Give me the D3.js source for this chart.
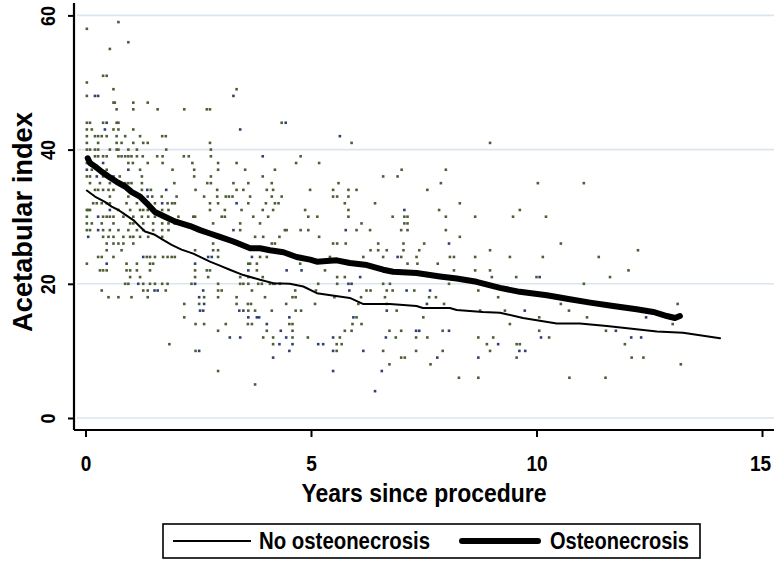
<!DOCTYPE html>
<html><head><meta charset="utf-8">
<script src="https://cdn.jsdelivr.net/npm/d3@7"></script>
<style>body{margin:0;background:#fff}svg{display:block}text{font-family:"Liberation Sans",Arial,sans-serif;font-weight:bold;fill:#000}</style>
</head><body><svg id="c" width="774" height="561"></svg>
<script>
// ---- data ----
const xTicks = [0, 5, 10, 15];
const yTicks = [0, 20, 40, 60];
const legendLabels = ["No osteonecrosis", "Osteonecrosis"];
// scatter rows: [value, [years...]]
const greenRows = [
 [59,[0.73]],[58,[0.03]],[56,[0.95]],[55,[0.54]],[51,[0.39,0.47]],[50,[0.03]],[49,[0.62,3.35]],[48,[0.03]],
 [47,[0.62,0.65,1.06,1.38]],[46,[0.69,1.06,1.60,2.19,2.69,2.76]],[44,[0.03,0.10,0.39,0.69,0.73,4.35]],
 [43,[0.03,0.14,0.62,0.73,1.06]],[42,[0.03,0.21,0.28,0.36,0.47,0.69,0.88,1.21,1.70,1.78]],
 [41,[0.03,0.28,0.69,0.80,1.06,1.28,1.38,2.76,5.90,8.97]],[40,[0.03,0.10,0.21,0.28,0.54,0.69,0.73,0.95,1.14,1.79,2.78]],
 [39,[0.21,0.28,0.39,0.47,0.73,0.80,0.88,0.95,1.02,1.14,1.27,1.59,1.71,2.18,2.29,2.78,4.77]],
 [38,[0.03,0.95,1.05,1.38,1.71,2.37,2.94,3.35,4.67,5.18]],
 [37,[0.14,0.28,0.47,1.21,1.93,2.41,2.94,3.54,4.20,7.01,7.99]],
 [36,[0.03,0.10,0.39,0.76,1.25,2.41,2.78,3.93,6.60,6.92]],
 [35,[0.10,0.32,0.54,0.88,0.95,1.02,1.25,1.97,2.70,2.78,3.28,3.61,4.13,5.61,7.88,10.03,11.05]],
 [34,[0.21,0.28,0.39,0.51,0.62,1.25,1.45,2.44,2.92,3.35,3.50,4.02,4.16,4.98,5.49,5.83,6.01,7.58]],
 [33,[0.54,0.95,1.48,1.69,2.02,2.63,2.92,3.11,3.18,3.26,3.65,4.13,4.35,5.49,5.58,5.83]],
 [32,[0.17,0.25,0.36,0.47,0.54,0.91,1.14,1.54,1.82,1.92,1.98,2.76,2.94,3.61,4.00,4.20,4.28,5.75,6.42,8.30]],
 [31,[0.03,0.06,0.10,0.73,0.99,1.21,1.28,1.38,1.70,1.84,2.76,3.09,3.46,3.93,4.16,4.87,5.83,7.84,9.63]],
 [30,[0.03,0.39,0.47,0.54,0.62,0.84,1.06,1.25,1.39,1.54,1.70,2.06,2.39,2.43,3.02,3.09,3.72,4.05,4.94,5.14,5.83,6.81,7.07,7.14,7.99,8.64,9.48,10.21]],
 [29,[0.03,0.14,0.36,0.62,0.99,1.06,1.28,1.50,1.70,1.84,1.98,2.83,3.43,3.87,6.12,7.07,7.14]],
 [28,[0.03,0.10,0.39,0.54,0.73,0.95,1.14,1.28,1.50,1.70,1.84,3.43,4.42,4.46,4.77,4.94,6.01,6.31,7.00,7.14,7.99]],
 [27,[0.39,0.51,0.62,0.84,0.99,1.06,1.21,1.39,1.70,2.94,3.76,3.94,4.30,5.18,8.30]],
 [26,[0.47,0.62,0.73,0.84,1.06,2.83,3.31,4.13,4.20,5.49,5.58,5.77,6.49,7.05,7.51,10.54]],
 [25,[0.47,0.80,2.43,2.83,2.94,6.32,6.49,6.68,7.05,7.40,8.97,12.25]],
 [24,[0.28,0.36,0.62,1.36,1.43,1.54,1.72,1.82,1.91,1.98,2.94,3.87,4.02,5.42,6.16,6.60,7.00,7.34,8.08,8.17,8.64,9.41,10.14,11.38]],
 [23,[0.03,0.91,1.14,1.43,1.50,3.61,3.65,3.80,4.76,7.14,7.36,7.81]],
 [22,[0.32,0.39,0.47,0.91,0.99,1.14,1.43,2.43,2.69,2.76,3.80,5.31,8.17,8.64,8.97,12.04]],
 [21,[0.99,1.21,2.43,2.72,3.43,3.61,3.93,5.58,5.75,8.08,9.01,9.55,10.00,11.63]],
 [20,[0.88,0.95,1.28,1.43,1.54,1.70,1.82,2.35,2.94,3.43,3.50,3.61,3.83,3.91,4.09,4.16,4.20,4.31,5.16,5.58,6.60,6.75,8.06,11.05]],
 [19,[0.36,1.28,1.38,1.78,2.94,3.02,3.69,4.65,5.11,6.23,6.32,6.68,6.81,7.29,8.71]],
 [18,[0.51,0.73,1.02,1.38,2.63,2.94,3.35,3.98,4.59,4.66,5.52,6.11,6.64,7.62,7.77,9.15]],
 [17,[2.19,2.52,3.35,3.60,3.67,4.45,5.09,6.05,6.68,7.95,10.54,13.13]],
 [16,[3.61,3.76,4.13,4.66,4.78,6.90,8.75,9.30,10.72]],
 [15,[2.19,6.01,7.49,10.06,11.12]],
 [14,[2.44,2.63,3.11,3.60,3.69,4.52,4.59,5.92,6.12,9.41,13.02]],
 [13,[2.94,4.02,4.59,5.75,5.90,6.74,7.00,7.92,10.06,11.54]],
 [12,[3.94,4.16,4.59,4.93,5.64,6.88,7.33,7.58,8.71,9.04,10.28]],
 [11,[1.86,4.16,5.57,5.68,8.90,9.56,9.63,11.96]],
 [10,[2.44,5.57,6.60,7.33,7.92,8.97]],
 [9,[7.00,7.08,9.56,12.11,12.37]],[8,[6.74,7.65,13.20]],[7,[2.94]],[6,[8.28,8.71,10.73,11.53]],[5,[3.76]]
];
const blueRows = [
 [48,[0.21,0.28,3.28]],[44,[0.47,4.44]],[43,[0.43,3.43]],[42,[5.64]],[39,[3.93]],[38,[0.39]],[37,[0.03,0.95]],
 [36,[0.25,0.54,0.62]],[34,[1.37,1.79]],[33,[1.38]],[32,[1.70,3.35]],[31,[0.54,7.07]],[30,[0.28]],
 [28,[0.28,3.28,5.77]],[27,[0.06]],[26,[8.06]],[24,[1.28,2.72,2.80,3.69,6.92]],[23,[0.47,2.43]],
 [22,[3.61,4.46,4.79]],[21,[6.09,10.07]],[20,[1.17,2.43,5.83,5.90]],[19,[1.53,1.60,2.61,5.85,7.12,7.64]],
 [18,[2.52]],[17,[2.63,7.57]],[16,[2.54,2.61,3.41,3.50,6.68,9.74]],[15,[3.61,3.80,3.85,4.52,5.94,12.43]],
 [14,[4.02]],[13,[4.33,7.33,7.40,8.06,11.76]],[12,[3.20,3.43,4.45,5.49,6.66,10.10,12.10,12.32]],
 [11,[4.30,4.59,5.16,5.27,9.15]],[10,[2.52,4.52,5.49,6.16,9.62,9.75]],[9,[4.16,7.80,8.71]],[7,[5.49,6.57]],[4,[6.42]]
];
// fitted curves: [years, value]
const noOsteoLine = [[0.03,33.9],[0.21,33.0],[0.43,32.2],[0.58,31.5],[0.73,31.0],[0.88,30.3],[1.06,29.5],[1.21,28.5],[1.32,27.8],[1.54,27.3],[1.73,26.5],[1.91,25.8],[2.13,25.1],[2.39,24.5],[2.54,24.0],[2.76,23.3],[2.98,22.7],[3.20,22.1],[3.50,21.3],[3.87,20.6],[4.16,20.1],[4.53,20.0],[4.83,19.6],[5.13,18.6],[5.86,17.9],[6.15,17.0],[6.75,17.0],[7.34,16.7],[7.48,16.4],[8.08,16.4],[8.23,16.1],[8.81,15.8],[9.19,15.7],[9.70,14.9],[10.45,14.1],[10.96,14.1],[11.56,13.7],[12.67,12.9],[13.25,12.7],[14.07,11.9]];
const osteoLine = [[0.05,38.7],[0.10,38.0],[0.21,37.5],[0.36,36.7],[0.51,36.0],[0.69,35.2],[0.88,34.5],[1.02,33.7],[1.21,33.0],[1.36,32.0],[1.54,30.7],[1.76,30.0],[1.98,29.3],[2.32,28.6],[2.54,28.0],[2.76,27.5],[2.98,27.0],[3.28,26.3],[3.65,25.3],[3.87,25.3],[4.09,25.0],[4.39,24.7],[4.68,24.0],[4.98,23.6],[5.13,23.3],[5.57,23.5],[5.86,23.1],[6.24,22.8],[6.60,22.1],[6.82,21.8],[7.34,21.6],[7.86,21.1],[8.23,20.8],[8.67,20.3],[9.19,19.4],[9.63,18.8],[10.23,18.3],[10.74,17.7],[11.19,17.2],[11.70,16.7],[12.22,16.2],[12.59,15.8],[12.89,15.2],[13.07,14.9],[13.18,15.2]];

// ---- drawing ----
const svg = d3.select("#c");
const x = d3.scaleLinear().domain([0, 15]).range([85.5, 762]);
const y = d3.scaleLinear().domain([0, 60]).range([418, 15.4]);
const axisX0 = 74, axisY0 = 430;
const flat = rows => rows.flatMap(([v, xs]) => xs.map(t => [t, v]));
const digitW = 10.6;

// gridlines
svg.append("g").selectAll("line").data(yTicks).join("line")
  .attr("x1", axisX0 + 3).attr("x2", 774).attr("y1", d => y(d)).attr("y2", d => y(d))
  .attr("stroke", "#dce5ee").attr("stroke-width", 1.6);

// points
const ps = 2.6;
svg.append("g").selectAll("rect").data(flat(greenRows)).join("rect")
  .attr("x", d => x(d[0]) - ps/2).attr("y", d => y(d[1]) - ps/2).attr("width", ps).attr("height", ps)
  .attr("fill", "#4e5e36");
svg.append("g").selectAll("rect").data(flat(blueRows)).join("rect")
  .attr("x", d => x(d[0]) - ps/2).attr("y", d => y(d[1]) - ps/2).attr("width", ps).attr("height", ps)
  .attr("fill", "#2f426f");

// lines
const line = d3.line().x(d => x(d[0])).y(d => y(d[1]));
svg.append("path").datum(noOsteoLine).attr("d", line).attr("fill", "none")
  .attr("stroke", "#000").attr("stroke-width", 2).attr("stroke-linejoin", "round").attr("stroke-linecap", "round");
svg.append("path").datum(osteoLine).attr("d", line).attr("fill", "none")
  .attr("stroke", "#000").attr("stroke-width", 6).attr("stroke-linejoin", "round").attr("stroke-linecap", "round");

// axes
const gy = svg.append("g").attr("transform", `translate(${axisX0},0)`)
  .call(d3.axisLeft(y).tickValues(yTicks).tickSize(6).tickFormat(d3.format("d")));
gy.select(".domain").attr("d", `M0,3V${axisY0}`).attr("stroke-width", 2.2);
gy.selectAll(".tick line").attr("stroke-width", 2);
gy.selectAll(".tick text").attr("font-size", 20).attr("font-family", null)
  .attr("x", 0).attr("y", 0).attr("dy", 0).attr("text-anchor", "middle")
  .attr("textLength", d => String(d).length * 10).attr("lengthAdjust", "spacingAndGlyphs")
  .attr("transform", `translate(-19,0) rotate(-90)`);

const gx = svg.append("g").attr("transform", `translate(0,${axisY0})`)
  .call(d3.axisBottom(x).tickValues(xTicks).tickSize(7).tickPadding(18).tickFormat(d3.format("d")));
gx.select(".domain").attr("d", `M${axisX0},0H774`).attr("stroke-width", 2.2);
gx.selectAll(".tick line").attr("stroke-width", 2);
gx.selectAll(".tick text").attr("font-size", 22).attr("font-family", null)
  .attr("textLength", d => String(d).length * digitW).attr("lengthAdjust", "spacingAndGlyphs");
gx.selectAll(".tick").filter(d => d === 15).select("text").attr("x", -2);

// titles
svg.append("text").attr("x", 424).attr("y", 502).attr("text-anchor", "middle").attr("font-size", 25)
  .attr("textLength", 245).attr("lengthAdjust", "spacingAndGlyphs").text("Years since procedure");
svg.append("text").attr("transform", "translate(32,222) rotate(-90)").attr("text-anchor", "middle").attr("font-size", 27)
  .attr("textLength", 220).attr("lengthAdjust", "spacingAndGlyphs").text("Acetabular index");

// legend
const lg = svg.append("g");
lg.append("rect").attr("x", 163).attr("y", 524).attr("width", 537).attr("height", 34)
  .attr("fill", "#fff").attr("stroke", "#000").attr("stroke-width", 1.6);
lg.append("line").attr("x1", 173).attr("x2", 251).attr("y1", 541).attr("y2", 541).attr("stroke", "#000").attr("stroke-width", 2);
lg.append("text").attr("x", 259).attr("y", 549).attr("font-size", 23)
  .attr("textLength", 171).attr("lengthAdjust", "spacingAndGlyphs").text(legendLabels[0]);
lg.append("line").attr("x1", 462).attr("x2", 538).attr("y1", 541).attr("y2", 541).attr("stroke", "#000").attr("stroke-width", 6).attr("stroke-linecap", "round");
lg.append("text").attr("x", 550).attr("y", 549).attr("font-size", 23)
  .attr("textLength", 139).attr("lengthAdjust", "spacingAndGlyphs").text(legendLabels[1]);
</script></body></html>
